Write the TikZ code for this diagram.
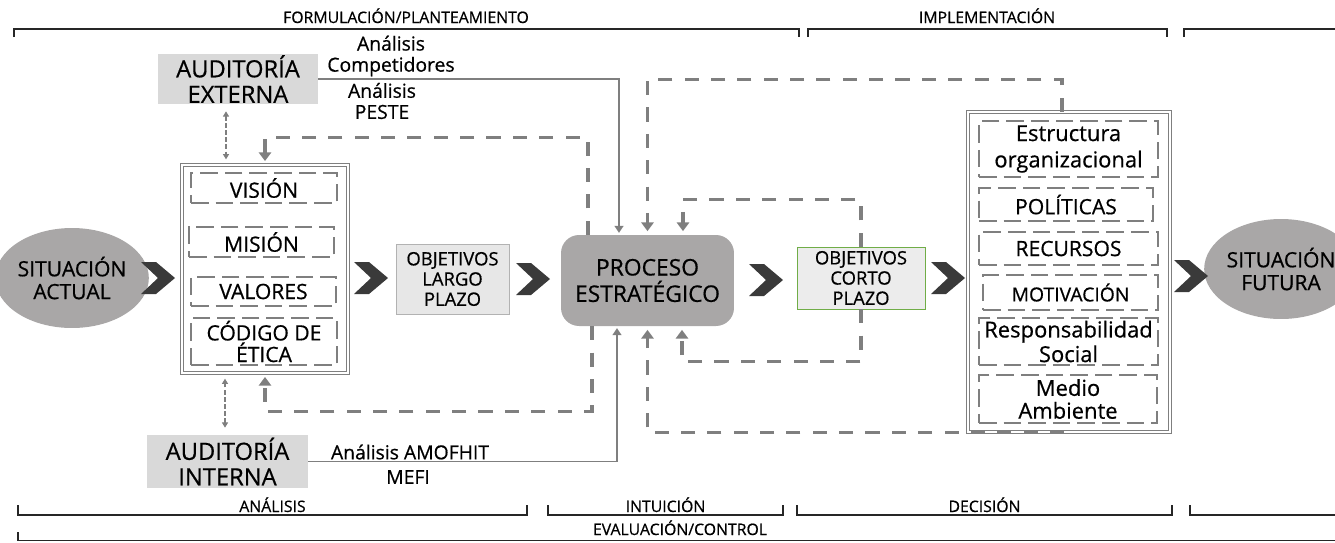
\documentclass[tikz,border=0pt]{standalone}
\usepackage{fontspec}
\setmainfont{Open Sans}[FakeBold=0.6]
\usepackage{xcolor}
\usepackage{tikz}
\usetikzlibrary{calc, shapes.geometric, positioning, arrows.meta}

\definecolor{grislinea}{HTML}{7F7F7F}
\definecolor{grisfondo}{HTML}{A9A7A7}
\definecolor{grisclaro}{HTML}{D9D9D9}
\definecolor{grisobj}{HTML}{E7E7E7}
\definecolor{grischev}{HTML}{3A3A3A}
\definecolor{verdeobj}{HTML}{70AD47}

\newcommand{\tam}[2]{\fontsize{#1}{#2}\selectfont}

\tikzset{
  columna/.style={draw=grislinea, line width=0.5pt, double=white, double distance=1.1pt, inner sep=0pt},
  item/.style={draw=grislinea, line width=1pt, dash pattern=on 10pt off 4pt, align=center, inner sep=0pt, font=\tam{12}{11}},
  auditoria/.style={fill=grisclaro, align=center, inner sep=0pt, font=\tam{13.5}{14.5}},
  situacion/.style={ellipse, fill=grisfondo, align=center, inner sep=0pt, minimum width=2.7cm, minimum height=2cm, font=\tam{12}{13}},
  objetivo/.style={draw=grislinea!60, fill=grisobj, align=center, inner sep=0pt, font=\tam{10.5}{11.5}},
  proceso/.style={fill=grisfondo, rounded corners=0.36cm, align=center, inner sep=0pt, font=\tam{13}{15}},
  etiqueta/.style={align=center, inner sep=0pt, font=\tam{11}{12}},
  enlace/.style={draw=grislinea, line width=1pt, -{Triangle[width=5pt,length=4pt]}, shorten >=1pt},
  lazo/.style={draw=grislinea, line width=1.9pt, dash pattern=on 8pt off 7pt, -{Triangle[width=7pt,length=5pt]}, shorten >=2pt},
  flechita/.style={draw=grislinea, line width=0.6pt, dash pattern=on 2.5pt off 1.5pt, {Triangle[width=3.5pt,length=3pt]}-{Triangle[width=3.5pt,length=3pt]}, shorten <=4pt, shorten >=3pt},
  llave/.style={line width=1pt, black!85},
  fase/.style={font=\tam{9}{10}, inner sep=0pt, anchor=base},
  chevron/.pic={\fill[grischev] (-17,-16) -- (-2,-16) -- (17,0) -- (-2,16) -- (-17,16) -- (0,0) -- cycle;}
}

\begin{document}
\begin{tikzpicture}[x=0.02cm, y=-0.02cm]
    \useasboundingbox (0,0) rectangle (1335,542);

    % 1. Fases: llaves superiores
    \draw[llave] (14,37) -- (14,29) -- (799,29) -- (799,37);
    \draw[llave] (808,37) -- (808,29) -- (1167,29) -- (1167,37);
    \draw[llave] (1184,37) -- (1184,29) -- (1340,29);
    \node[fase] (formulacion) at (406,23) {FORMULACIÓN/PLANTEAMIENTO};
    \node[fase] (implementacion) at (987,23) {IMPLEMENTACIÓN};

    % 2. Fases: llaves inferiores
    \foreach \a/\b/\txt in {18/527/ANÁLISIS, 548/783/INTUICIÓN, 797/1172/DECISIÓN} {
        \draw[llave] (\a,505) -- (\a,515) -- (\b,515) -- (\b,505);
        \node[fase] (fase-\a) at ({(\a+\b)/2},512) {\txt};
    }
    \draw[llave] (1190,505) -- (1190,515) -- (1340,515);
    \draw[llave] (18,532) -- (18,540.5) -- (1340,540.5);
    \node[fase] (evaluacion) at (680,535) {EVALUACIÓN/CONTROL};

    % 3. Situaciones y columnas
    \node[situacion] (sitact) at (72,278) {SITUACIÓN\\ACTUAL};
    \node[situacion] (sitfut) at (1281,269) {SITUACIÓN\\FUTURA};

    \node[columna, minimum width=3.32cm, minimum height=4.16cm] (colizq) at (265,269) {};
    \node[item, minimum width=2.92cm, minimum height=0.6cm] (vision) at (264,188) {VISIÓN};
    \node[item, minimum width=2.9cm, minimum height=0.6cm] (mision) at (261.5,242) {MISIÓN};
    \node[item, minimum width=2.9cm, minimum height=0.58cm] (valores) at (263.5,291.5) {VALORES};
    \node[item, minimum width=2.92cm, minimum height=0.94cm] (codigo) at (264,341.5) {CÓDIGO DE\\ÉTICA};

    \node[columna, minimum width=4.04cm, minimum height=6.4cm] (colder) at (1069,272) {};
    \node[item, minimum width=3.58cm, minimum height=1.12cm, font=\tam{12.5}{15}] (estructura) at (1068.5,149) {Estructura\\organizacional};
    \node[item, minimum width=3.48cm, minimum height=0.66cm] (politicas) at (1066,204.5) {POLÍTICAS};
    \node[item, minimum width=3.58cm, minimum height=0.66cm] (recursos) at (1068.5,248.5) {RECURSOS};
    \node[item, minimum width=3.5cm, minimum height=0.7cm, font=\tam{11}{12}] (motivacion) at (1070.5,292.5) {MOTIVACIÓN};
    \node[item, minimum width=3.58cm, minimum height=0.94cm, font=\tam{12.5}{14}] (responsab) at (1068.5,341.5) {Responsabilidad\\Social};
    \node[item, minimum width=3.56cm, minimum height=0.96cm, font=\tam{12.5}{13}] (medio) at (1068,399) {Medio\\Ambiente};

    % 4. Objetivos y proceso
    \node[objetivo, minimum width=2.26cm, minimum height=1.4cm] (objlargo) at (452.5,279) {OBJETIVOS\\LARGO\\PLAZO};
    \node[proceso, minimum width=3.46cm, minimum height=1.82cm] (proc) at (647.5,280.5) {PROCESO\\ESTRATÉGICO};
    \node[objetivo, draw=verdeobj, fill=grisobj!80, minimum width=2.56cm, minimum height=1.24cm] (objcorto) at (861,278) {OBJETIVOS\\CORTO\\PLAZO};

    % 5. Auditorias
    \node[auditoria, minimum width=3.2cm, minimum height=1cm] (audext) at (238,79) {AUDITORÍA\\EXTERNA};
    \node[auditoria, minimum width=3.22cm, minimum height=1.06cm] (audint) at (227.5,461.5) {AUDITORÍA\\INTERNA};
    \node[etiqueta] (competidores) at (391,56) {Análisis\\Competidores};
    \node[etiqueta] (peste) at (382,101) {Análisis\\PESTE};
    \node[etiqueta] (amofhit) at (410,452) {Análisis AMOFHIT};
    \node[etiqueta] (mefi) at (408,477) {MEFI};

    % 6. Chevrones
    \foreach \cx/\cy in {158/278, 371/278, 533/279, 766/280, 948/278, 1191/276} {
        \pic at (\cx,\cy) {chevron};
    }

    % 7. Conectores
    \draw[enlace] (audext.east) -| ([xshift=-0.57cm]proc.north);
    \draw[enlace] (audint.east) -| ([xshift=-0.61cm]proc.south);
    \draw[flechita] ([xshift=-0.24cm]audext.south) -- ([xshift=-0.24cm]audext.south |- colizq.north);
    \draw[flechita] ([xshift=-0.05cm]audint.north) -- ([xshift=-0.05cm]audint.north |- colizq.south);

    \draw[lazo] ([xshift=-1.19cm]proc.north) -- ++(0,-97) -| (colizq.north);
    \draw[lazo] ([xshift=-1.11cm]proc.south) -- ++(0,85) -| (colizq.south);
    \draw[lazo] ([xshift=-0.14cm]colder.north) -- ++(0,-32) -| (proc.north);
    \draw[lazo] ([xshift=-0.1cm]colder.south) -| (proc.south);
    \draw[lazo] (objcorto.north) -- ++(0,-47) -| ([xshift=0.71cm]proc.north);
    \draw[lazo] (objcorto.south) -- ++(0,52) -| ([xshift=0.69cm]proc.south);
\end{tikzpicture}
\end{document}
